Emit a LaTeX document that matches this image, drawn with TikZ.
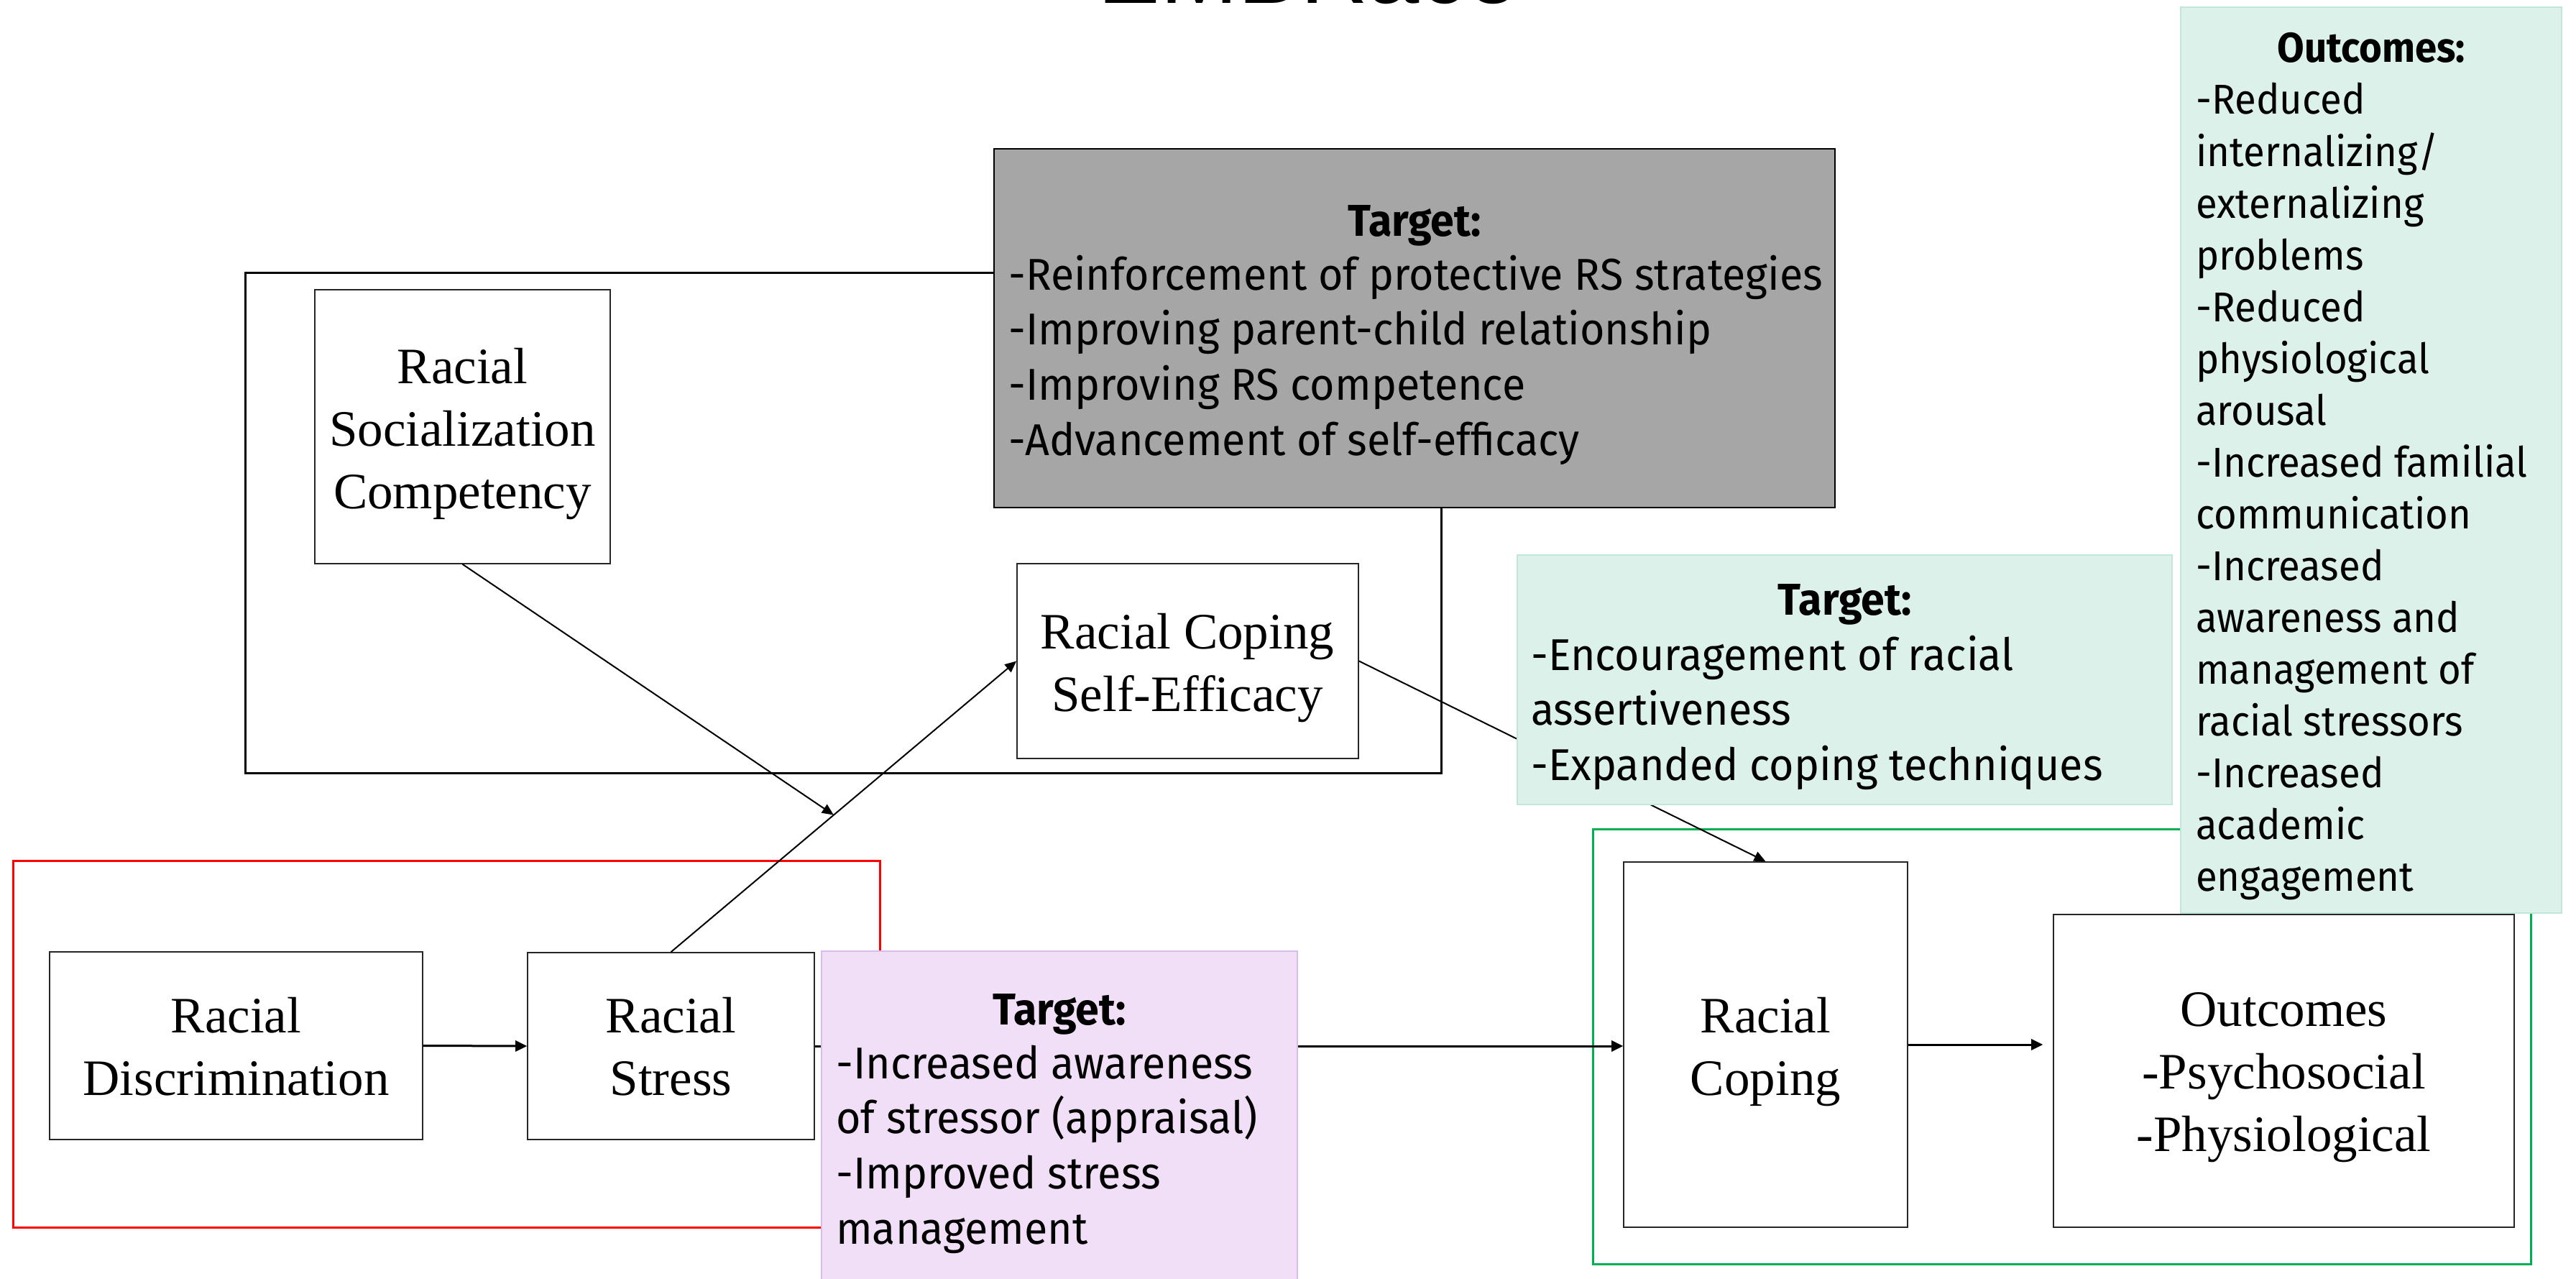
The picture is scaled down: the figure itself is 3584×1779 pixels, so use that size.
\documentclass[tikz,border=0pt]{standalone}
\usepackage{fontspec}
\usetikzlibrary{arrows.meta,calc,fit}
\newfontfamily\capsans[FakeStretch=0.954]{Fira Sans}
\newfontfamily\outsans[FakeStretch=0.94]{Fira Sans}
\newfontfamily\boxserif{Liberation Serif}
\newfontfamily\headsans{Liberation Sans}
\definecolor{tgray}{RGB}{166,166,166}
\definecolor{tmint}{RGB}{219,241,233}
\definecolor{tmintline}{RGB}{192,231,215}
\definecolor{tlilac}{RGB}{240,223,246}
\definecolor{tlilacline}{RGB}{216,188,236}
\definecolor{grpgreen}{RGB}{0,176,80}
\definecolor{grpred}{RGB}{255,0,0}
% stacked lines whose baseline is that of the first line
\newcommand{\leftlines}[1]{\vtop{\halign{##\hfil\cr#1\crcr}}}
\newcommand{\midlines}[1]{\vtop{\halign{\hfil##\hfil\cr#1\crcr}}}
\begin{document}
\begin{tikzpicture}[x=1pt,y=-1pt,
  concept/.style={draw=black!85, line width=1.6pt, fill=white, inner sep=0pt},
  group/.style={line width=3pt, inner sep=0pt},
  target/.style={line width=2pt, inner sep=0pt},
  label/.style={inner sep=0pt, anchor=base, font=\boxserif\fontsize{71}{87}\selectfont},
  tgthead/.style={inner sep=0pt, anchor=base, font=\capsans\bfseries\fontsize{62}{76.7}\selectfont},
  tgtlist/.style={inner sep=0pt, anchor=base west, font=\capsans\fontsize{62}{76.7}\selectfont},
  link/.style={line width=2pt, -{Triangle[length=16pt,width=14pt]}},
  flow/.style={line width=3pt, -{Triangle[length=16pt,width=15pt]}}
]
\clip (0,0) rectangle (3584,1779);
\fill[white] (0,0) rectangle (3584,1779);

% title, mostly above the top edge
\node[inner sep=0pt, anchor=base, font=\headsans\fontsize{130}{130}\selectfont] (title) at (1820,5) {EMBRace};

% grouping frames
\node[group, draw=black, fit={(341,379) (2005,1075)}] (rsgroup) {};
\node[group, draw=grpred, fit={(18,1197) (1224,1707)}] (stressgroup) {};
\node[group, draw=grpgreen, fit={(2216,1153) (3521,1758)}] (copegroup) {};

% concept boxes
\node[concept, fit={(438,403) (849,784)}] (rsc) {};
\node[concept, fit={(1415,784) (1890,1055)}] (rcse) {};
\node[concept, fit={(69,1324) (588,1585)}] (disc) {};
\node[concept, fit={(734,1325) (1133,1585)}] (stress) {};
\node[concept, fit={(2259,1199) (2654,1707)}] (cope) {};
\node[concept, fit={(2857,1272) (3498,1707)}] (outc) {};

\node[label] (rsctxt) at (643.5,533) {\midlines{Racial\cr Socialization\cr Competency}};
\node[label] (rcsetxt) at (1652,902) {\midlines{Racial Coping\cr Self-Efficacy}};
\node[label] (disctxt) at (328.5,1436) {\midlines{Racial\cr Discrimination}};
\node[label] (stresstxt) at (933.5,1436) {\midlines{Racial\cr Stress}};
\node[label] (copetxt) at (2456.5,1436) {\midlines{Racial\cr Coping}};
\node[label] (outctxt) at (3177.5,1427) {\midlines{Outcomes\cr -Psychosocial\cr -Physiological}};

% paths
\coordinate (moderate) at ($(stress.north)!0.471!(rcse.west)$);
\draw[link] (rsc.south) -- (moderate);
\draw[link] (stress.north) -- (rcse.west);
\draw[link] (rcse.east) -- (cope.north);
\draw[flow] (disc.east) -- (stress.west);
\draw[flow] (stress.east) -- (stress.east -| cope.west);
\coordinate (outcin) at ($(outc.west |- cope.east)+(-14,0)$);
\draw[flow] (cope.east) -- (outcin);

% intervention targets
\node[target, draw=black, fill=tgray, fit={(1383,207) (2553,706)}] (tgtrs) {};
\node[tgthead] (tgtrshead) at (1968,328) {Target:};
\node[tgtlist] (tgtrslist) at (1403,403) {\leftlines{-Reinforcement of protective RS strategies\cr -Improving parent-child relationship\cr -Improving RS competence\cr -Advancement of self-efficacy}};

\node[target, draw=tmintline, fill=tmint, fit={(2111,772) (3022,1119)}] (tgtcope) {};
\node[tgthead] (tgtcopehead) at (2566.5,855) {Target:};
\node[tgtlist] (tgtcopelist) at (2130,932) {\leftlines{-Encouragement of racial\cr assertiveness\cr -Expanded coping techniques}};

\node[target, draw=tlilacline, fill=tlilac, fit={(1143,1323) (1805,1800)}] (tgtstress) {};
\node[tgthead] (tgtstresshead) at (1474,1425) {Target:};
\node[tgtlist] (tgtstresslist) at (1163,1500) {\leftlines{-Increased awareness\cr of stressor (appraisal)\cr -Improved stress\cr management}};

\node[target, draw=tmintline, fill=tmint, fit={(3034,10) (3564,1270)}] (tgtout) {};
\node[tgthead, font=\outsans\bfseries\fontsize{58}{72.06}\selectfont] (tgtouthead) at (3299,87) {Outcomes:};
\node[tgtlist, font=\outsans\fontsize{58}{72.06}\selectfont] (tgtoutlist) at (3055,159) {\leftlines{-Reduced\cr internalizing/\cr externalizing\cr problems\cr -Reduced\cr physiological\cr arousal\cr -Increased familial\cr communication\cr -Increased\cr awareness and\cr management of\cr racial stressors\cr -Increased\cr academic\cr engagement}};
\end{tikzpicture}
\end{document}
